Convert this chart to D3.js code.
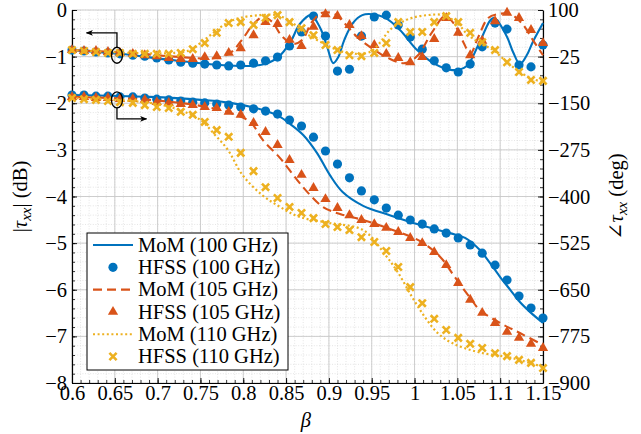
<!DOCTYPE html>
<html>
<head>
<meta charset="utf-8">
<script src="https://cdn.jsdelivr.net/npm/d3@7"></script>
<style>
  body { margin: 0; background: #fff; }
  svg { display: block; font-family: "Liberation Serif", "DejaVu Serif", serif; }
</style>
</head>
<body>
<div id="chart"></div>
<script>
// HFSS sweep grid (beta) and read-off values
const hfssBeta = [0.600, 0.614, 0.628, 0.642, 0.656, 0.671, 0.685, 0.699, 0.713, 0.727,
  0.741, 0.755, 0.769, 0.783, 0.797, 0.812, 0.826, 0.840, 0.854, 0.868,
  0.882, 0.896, 0.910, 0.924, 0.938, 0.953, 0.967, 0.981, 0.995, 1.009,
  1.023, 1.037, 1.051, 1.065, 1.079, 1.094, 1.108, 1.122, 1.136, 1.150];

// |tau_xx| in dB (left axis)
const hfssMag100 = [-0.86, -0.88, -0.90, -0.92, -0.94, -0.97, -0.99, -1.03, -1.07, -1.12,
  -1.14, -1.16, -1.18, -1.20, -1.18, -1.14, -1.09, -1.01, -0.77, -0.47,
  -0.13, -0.56, -1.31, -1.27, -0.56, -0.15, -0.11, -0.32, -0.58, -0.84,
  -1.09, -1.24, -1.33, -1.16, -0.79, -0.28, -0.41, -1.18, -1.22, -0.75];
const hfssMag105 = [-0.86, -0.88, -0.88, -0.90, -0.92, -0.94, -0.97, -0.99, -1.03, -1.05,
  -1.05, -1.01, -0.99, -0.92, -0.82, -0.54, -0.26, -0.30, -0.64, -0.77,
  -0.36, -0.09, -0.13, -0.32, -0.56, -0.75, -0.94, -1.03, -1.12, -1.01,
  -0.62, -0.17, -0.49, -0.97, -0.66, -0.24, -0.06, -0.17, -0.43, -0.71];
const hfssMag110 = [-0.86, -0.88, -0.90, -0.92, -0.92, -0.94, -0.94, -0.94, -0.94, -0.92,
  -0.84, -0.71, -0.49, -0.28, -0.26, -0.32, -0.17, -0.11, -0.26, -0.39,
  -0.54, -0.75, -0.86, -0.97, -0.99, -0.92, -0.71, -0.26, -0.47, -0.47,
  -0.26, -0.13, -0.26, -0.49, -0.69, -0.86, -1.12, -1.33, -1.50, -1.52];

// angle of tau_xx in degrees (right axis)
const hfssPh100 = [-128, -128, -131, -131, -133, -133, -136, -139, -141, -144,
  -147, -149, -152, -155, -160, -165, -171, -179, -195, -211,
  -241, -278, -313, -350, -385, -409, -431, -450, -463, -474,
  -487, -498, -511, -530, -552, -584, -624, -667, -699, -726];
const hfssPh105 = [-133, -133, -136, -136, -139, -139, -141, -147, -149, -152,
  -155, -160, -163, -173, -181, -203, -227, -262, -302, -342,
  -377, -407, -431, -450, -463, -474, -484, -495, -511, -525,
  -549, -584, -632, -677, -712, -739, -763, -779, -795, -806];
const hfssPh110 = [-136, -139, -141, -144, -147, -149, -155, -160, -163, -173,
  -181, -200, -222, -240, -283, -332, -375, -404, -428, -444,
  -458, -474, -482, -490, -509, -522, -546, -589, -643, -686,
  -728, -758, -779, -795, -806, -820, -828, -838, -846, -860];

// MoM curves, sampled at their own beta points
const momMag100Beta = [0.600, 0.656, 0.714, 0.773, 0.808, 0.825, 0.841, 0.855, 0.866, 0.879,
  0.890, 0.898, 0.905, 0.911, 0.918, 0.928, 0.939, 0.950, 0.966, 0.983,
  1.003, 1.022, 1.044, 1.061, 1.076, 1.092, 1.107, 1.115, 1.123, 1.131, 1.138, 1.150];
const momMag100 = [-0.86, -0.94, -1.07, -1.18, -1.20, -1.16, -1.01, -0.69, -0.30, -0.11,
  -0.39, -0.79, -1.14, -1.01, -0.64, -0.28, -0.11, -0.09, -0.17, -0.43,
  -0.86, -1.14, -1.29, -1.20, -0.69, -0.17, -0.54, -0.90, -1.16, -0.97, -0.69, -0.28];

const momMag105Beta = [0.600, 0.668, 0.726, 0.767, 0.785, 0.800, 0.811, 0.823, 0.834, 0.845,
  0.858, 0.869, 0.880, 0.892, 0.907, 0.919, 0.933, 0.950, 0.969, 0.989,
  1.004, 1.020, 1.036, 1.047, 1.057, 1.065, 1.074, 1.086, 1.097, 1.112, 1.126, 1.138, 1.150];
const momMag105 = [-0.86, -0.92, -1.01, -1.03, -0.92, -0.60, -0.32, -0.15, -0.26, -0.56,
  -0.73, -0.64, -0.26, -0.06, -0.09, -0.30, -0.58, -0.82, -1.03, -1.14,
  -0.97, -0.49, -0.13, -0.32, -0.69, -0.94, -0.60, -0.17, -0.09, -0.09, -0.30, -0.64, -0.97];

const momMag110Beta = [0.600, 0.668, 0.720, 0.738, 0.750, 0.765, 0.781, 0.796, 0.820, 0.839,
  0.855, 0.866, 0.878, 0.893, 0.913, 0.933, 0.948, 0.960, 0.971, 0.983,
  0.997, 1.015, 1.033, 1.050, 1.061, 1.076, 1.092, 1.108, 1.123, 1.138, 1.150];
const momMag110 = [-0.86, -0.92, -0.92, -0.86, -0.71, -0.49, -0.28, -0.17, -0.11, -0.11,
  -0.24, -0.41, -0.56, -0.71, -0.88, -0.94, -0.90, -0.69, -0.43, -0.28,
  -0.17, -0.11, -0.11, -0.28, -0.51, -0.71, -0.86, -1.12, -1.33, -1.48, -1.54];

const momPh100Beta = [0.600, 0.691, 0.750, 0.785, 0.823, 0.841, 0.855, 0.870, 0.886, 0.901,
  0.916, 0.940, 0.971, 1.006, 1.041, 1.059, 1.076, 1.088, 1.100, 1.112, 1.123, 1.135, 1.150];
const momPh100 = [-128, -133, -141, -149, -168, -184, -206, -235, -283, -342,
  -388, -425, -450, -476, -498, -511, -543, -578, -616, -651, -683, -710, -739];

const momPh105Beta = [0.600, 0.691, 0.750, 0.785, 0.808, 0.823, 0.843, 0.863, 0.878, 0.893,
  0.913, 0.940, 0.971, 1.006, 1.030, 1.047, 1.065, 1.076, 1.100, 1.123, 1.150];
const momPh105 = [-133, -141, -157, -176, -200, -249, -297, -356, -396, -428,
  -447, -463, -487, -519, -562, -616, -672, -704, -739, -766, -798];

const momPh110Beta = [0.600, 0.691, 0.726, 0.750, 0.767, 0.782, 0.799, 0.822, 0.843, 0.866,
  0.901, 0.940, 0.966, 0.981, 0.997, 1.012, 1.027, 1.044, 1.074, 1.114, 1.150];
const momPh110 = [-136, -149, -168, -195, -235, -275, -342, -396, -428, -455,
  -471, -490, -557, -605, -669, -723, -766, -793, -817, -833, -857];

// ticks
const xTicks = [0.6, 0.65, 0.7, 0.75, 0.8, 0.85, 0.9, 0.95, 1, 1.05, 1.1, 1.15];
const magTicks = [0, -1, -2, -3, -4, -5, -6, -7, -8];
const phaseTicks = [100, -25, -150, -275, -400, -525, -650, -775, -900];

const legendLabels = ['MoM (100 GHz)', 'HFSS (100 GHz)', 'MoM (105 GHz)',
  'HFSS (105 GHz)', 'MoM (110 GHz)', 'HFSS (110 GHz)'];

const colors = { f100: '#0072BD', f105: '#D95319', f110: '#EDB120' };

// ---------------------------------------------------------------
const width = 641, height = 434;
const margin = { top: 10, right: 98, bottom: 51, left: 72 };
const innerW = width - margin.left - margin.right;
const innerH = height - margin.top - margin.bottom;
const fontSize = '20.5px';

const svg = d3.select('#chart').append('svg')
  .attr('width', width)
  .attr('height', height);

const x = d3.scaleLinear().domain([0.6, 1.15]).range([margin.left, margin.left + innerW]);
const yMag = d3.scaleLinear().domain([-8, 0]).range([margin.top + innerH, margin.top]);
const yPh = d3.scaleLinear().domain([-900, 100]).range([margin.top + innerH, margin.top]);

// grid
const xMinor = d3.range(0.6, 1.1501, 0.01);
const yMinor = d3.range(-8, 0.001, 0.2);
const grid = svg.append('g').attr('class', 'grid');

grid.selectAll('.vminor').data(xMinor).join('line')
  .attr('x1', d => x(d)).attr('x2', d => x(d))
  .attr('y1', margin.top).attr('y2', margin.top + innerH)
  .attr('stroke', '#d4d4d4').attr('stroke-width', 0.6).attr('stroke-dasharray', '1,1.6');
grid.selectAll('.hminor').data(yMinor).join('line')
  .attr('y1', d => yMag(d)).attr('y2', d => yMag(d))
  .attr('x1', margin.left).attr('x2', margin.left + innerW)
  .attr('stroke', '#d4d4d4').attr('stroke-width', 0.6).attr('stroke-dasharray', '1,1.6');
grid.selectAll('.vmajor').data(xTicks).join('line')
  .attr('x1', d => x(d)).attr('x2', d => x(d))
  .attr('y1', margin.top).attr('y2', margin.top + innerH)
  .attr('stroke', '#c8c8c8').attr('stroke-width', 0.9);
grid.selectAll('.hmajor').data(magTicks).join('line')
  .attr('y1', d => yMag(d)).attr('y2', d => yMag(d))
  .attr('x1', margin.left).attr('x2', margin.left + innerW)
  .attr('stroke', '#c8c8c8').attr('stroke-width', 0.9);

// axes
const fmt = d3.format('~g');
function styleAxis(g) {
  g.attr('font-family', null).attr('font-size', null);
  g.select('.domain').attr('stroke', '#000').attr('stroke-width', 1.2);
  g.selectAll('.tick line').attr('stroke', '#000').attr('stroke-width', 0.9);
  g.selectAll('.tick text').attr('fill', '#000').style('font-size', fontSize);
}

svg.append('g')
  .attr('transform', `translate(0,${margin.top + innerH})`)
  .call(d3.axisBottom(x).tickValues(xMinor).tickSize(-3).tickSizeOuter(0).tickFormat(''))
  .call(g => g.select('.domain').remove())
  .selectAll('line').attr('stroke', '#000').attr('stroke-width', 0.8);
svg.append('g')
  .attr('transform', `translate(${margin.left},0)`)
  .call(d3.axisLeft(yMag).tickValues(yMinor).tickSize(-3).tickSizeOuter(0).tickFormat(''))
  .call(g => g.select('.domain').remove())
  .selectAll('line').attr('stroke', '#000').attr('stroke-width', 0.8);
svg.append('g')
  .attr('transform', `translate(${margin.left + innerW},0)`)
  .call(d3.axisRight(yMag).tickValues(yMinor).tickSize(-3).tickSizeOuter(0).tickFormat(''))
  .call(g => g.select('.domain').remove())
  .selectAll('line').attr('stroke', '#000').attr('stroke-width', 0.8);

svg.append('g')
  .attr('transform', `translate(0,${margin.top + innerH})`)
  .call(d3.axisBottom(x).tickValues(xTicks).tickSize(-5).tickSizeOuter(0).tickPadding(2).tickFormat(fmt))
  .call(styleAxis);
svg.append('g')
  .attr('transform', `translate(${margin.left},0)`)
  .call(d3.axisLeft(yMag).tickValues(magTicks).tickSize(-5).tickSizeOuter(0).tickPadding(5).tickFormat(fmt))
  .call(styleAxis);
svg.append('g')
  .attr('transform', `translate(${margin.left + innerW},0)`)
  .call(d3.axisRight(yPh).tickValues(phaseTicks).tickSize(-5).tickSizeOuter(0).tickPadding(5).tickFormat(fmt))
  .call(styleAxis);

// axis titles
svg.append('text')
  .attr('x', x(0.873)).attr('y', 427)
  .attr('text-anchor', 'middle')
  .style('font-size', fontSize).style('font-style', 'italic')
  .text('β');

const leftTitle = svg.append('text')
  .attr('transform', `translate(27,${margin.top + innerH / 2}) rotate(-90)`)
  .attr('text-anchor', 'middle')
  .style('font-size', fontSize);
leftTitle.append('tspan').text('|');
leftTitle.append('tspan').style('font-style', 'italic').text('τ');
leftTitle.append('tspan').style('font-style', 'italic').style('font-size', '15px').attr('dy', 4).text('xx');
leftTitle.append('tspan').attr('dy', -4).text('| (dB)');

const rightTitle = svg.append('text')
  .attr('transform', `translate(623,${margin.top + innerH / 2}) rotate(-90)`)
  .attr('text-anchor', 'middle')
  .style('font-size', fontSize);
rightTitle.append('tspan').text('∠');
rightTitle.append('tspan').style('font-style', 'italic').text('τ');
rightTitle.append('tspan').style('font-style', 'italic').style('font-size', '15px').attr('dy', 4).text('xx');
rightTitle.append('tspan').attr('dy', -4).text(' (deg)');

// series
const plot = svg.append('g');
const zip = (bx, vals) => bx.map((b, i) => [b, vals[i]]);

const crossPath = 'M-3.6,-3.6L3.6,3.6M-3.6,3.6L3.6,-3.6';
const circlePath = d3.symbol(d3.symbolCircle, 66)();
const trianglePath = d3.symbol(d3.symbolTriangle, 46)();

const series = [
  { key: 'f100', momBeta: [momMag100Beta, momPh100Beta], mom: [momMag100, momPh100], hfss: [hfssMag100, hfssPh100], dash: null, marker: 'circle' },
  { key: 'f105', momBeta: [momMag105Beta, momPh105Beta], mom: [momMag105, momPh105], hfss: [hfssMag105, hfssPh105], dash: '9,5', marker: 'triangle' },
  { key: 'f110', momBeta: [momMag110Beta, momPh110Beta], mom: [momMag110, momPh110], hfss: [hfssMag110, hfssPh110], dash: '2,2.6', marker: 'cross' }
];

function drawMarker(sel, s) {
  const c = colors[s.key];
  if (s.marker === 'cross') {
    sel.attr('d', crossPath).attr('fill', 'none').attr('stroke', c).attr('stroke-width', 2.6);
  } else {
    sel.attr('d', s.marker === 'circle' ? circlePath : trianglePath).attr('fill', c);
  }
}

[yMag, yPh].forEach((yScale, k) => {
  series.forEach(s => {
    const line = d3.line()
      .x(d => x(d[0])).y(d => yScale(d[1]))
      .curve(d3.curveCatmullRom.alpha(0.5));
    plot.append('path')
      .datum(zip(s.momBeta[k], s.mom[k]))
      .attr('d', line)
      .attr('fill', 'none')
      .attr('stroke', colors[s.key])
      .attr('stroke-width', s.key === 'f110' ? 2.2 : 2.1)
      .attr('stroke-dasharray', s.dash);
    plot.append('g').selectAll('path')
      .data(zip(hfssBeta, s.hfss[k]))
      .join('path')
      .attr('transform', d => `translate(${x(d[0])},${yScale(d[1])})`)
      .call(sel => drawMarker(sel, s));
  });
});

// ellipse + arrow annotations
const annBeta = 0.6525;
const magMark = { y: -0.97, bendY: -0.49, endBeta: 0.617 };
const phMark = { y: -141, bendY: -192, endBeta: 0.687 };

svg.append('defs').append('marker')
  .attr('id', 'arrow').attr('viewBox', '0 0 10 10')
  .attr('refX', 9).attr('refY', 5)
  .attr('markerWidth', 7).attr('markerHeight', 7)
  .attr('markerUnits', 'userSpaceOnUse')
  .attr('orient', 'auto')
  .append('path').attr('d', 'M0,1L10,5L0,9L2.5,5Z').attr('fill', '#000');

const ann = svg.append('g').attr('fill', 'none').attr('stroke', '#000').attr('stroke-width', 1.3);
const ry = 8;
ann.append('ellipse').attr('cx', x(annBeta)).attr('cy', yMag(magMark.y)).attr('rx', 5.5).attr('ry', ry);
ann.append('path')
  .attr('d', d3.line()([[x(annBeta), yMag(magMark.y) - ry], [x(annBeta), yMag(magMark.bendY)], [x(magMark.endBeta), yMag(magMark.bendY)]]))
  .attr('marker-end', 'url(#arrow)');
ann.append('ellipse').attr('cx', x(annBeta)).attr('cy', yPh(phMark.y)).attr('rx', 5.5).attr('ry', ry);
ann.append('path')
  .attr('d', d3.line()([[x(annBeta), yPh(phMark.y) + ry], [x(annBeta), yPh(phMark.bendY)], [x(phMark.endBeta), yPh(phMark.bendY)]]))
  .attr('marker-end', 'url(#arrow)');

// legend
const legend = svg.append('g').attr('transform', 'translate(87,233)');
legend.append('rect')
  .attr('width', 201).attr('height', 137)
  .attr('fill', '#fff').attr('stroke', '#000').attr('stroke-width', 1);
const rows = legend.selectAll('g.row')
  .data(legendLabels)
  .join('g')
  .attr('class', 'row')
  .attr('transform', (d, i) => `translate(0,${12 + i * 22.3})`);
rows.each(function (label, i) {
  const s = series[Math.floor(i / 2)];
  const g = d3.select(this);
  if (i % 2 === 0) {
    g.append('line')
      .attr('x1', 6).attr('x2', 46).attr('y1', 0).attr('y2', 0)
      .attr('stroke', colors[s.key]).attr('stroke-width', 2.1)
      .attr('stroke-dasharray', s.dash);
  } else {
    g.append('path').attr('transform', 'translate(26,0)').call(sel => drawMarker(sel, s));
  }
  g.append('text')
    .attr('x', 51).attr('y', 0).attr('dy', '0.33em')
    .style('font-size', fontSize)
    .text(label);
});
</script>
</body>
</html>
